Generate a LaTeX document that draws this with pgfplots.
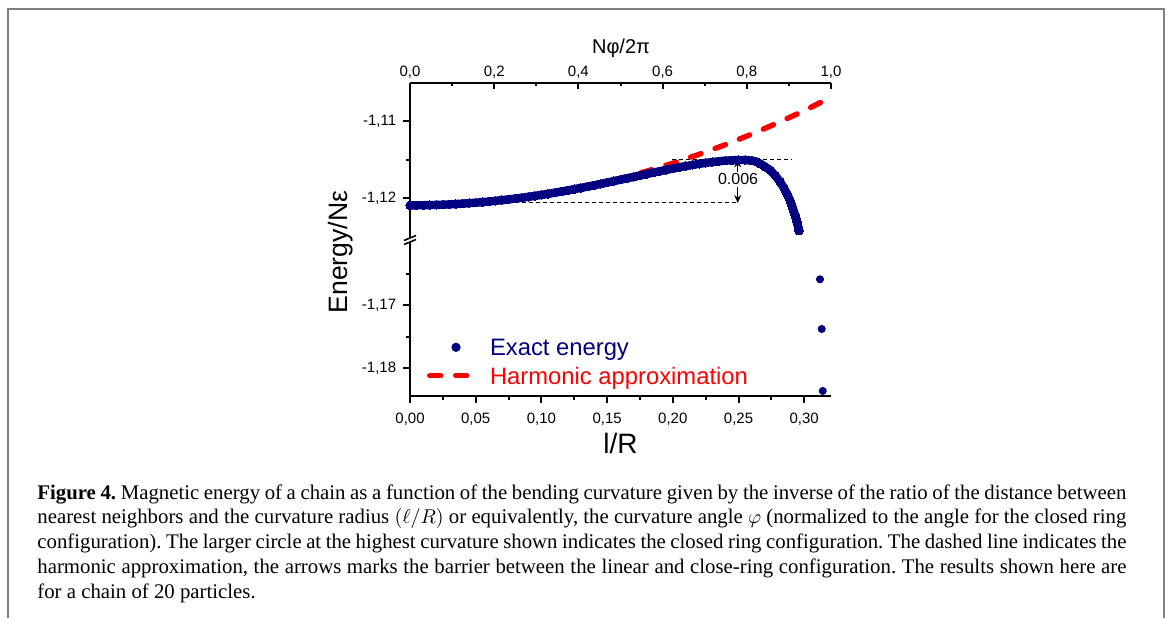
\documentclass[border=0pt]{standalone}
\usepackage{pgfplots}
\pgfplotsset{compat=1.18}
\usepackage{pgfplotstable}
\usetikzlibrary{arrows.meta}
\usepackage{fontspec}
\setmainfont{Liberation Sans}
\newfontfamily\capfont{Liberation Serif}
\definecolor{navyb}{RGB}{0,0,128}
\definecolor{bordergray}{RGB}{128,128,128}

\pgfplotstableread{
x y
0.000 -1.12090
0.005 -1.12090
0.010 -1.12089
0.015 -1.12087
0.020 -1.12085
0.025 -1.12082
0.030 -1.12078
0.035 -1.12073
0.040 -1.12068
0.045 -1.12062
0.050 -1.12056
0.055 -1.12049
0.060 -1.12041
0.065 -1.12032
0.070 -1.12023
0.075 -1.12013
0.080 -1.12003
0.085 -1.11992
0.090 -1.11980
0.095 -1.11968
0.100 -1.11955
0.105 -1.11941
0.110 -1.11927
0.115 -1.11912
0.120 -1.11897
0.125 -1.11881
0.130 -1.11865
0.135 -1.11848
0.140 -1.11831
0.145 -1.11813
0.150 -1.11795
0.155 -1.11777
0.160 -1.11759
0.165 -1.11740
0.170 -1.11722
0.175 -1.11703
0.180 -1.11685
0.185 -1.11666
0.190 -1.11648
0.195 -1.11631
0.200 -1.11614
0.205 -1.11597
0.210 -1.11581
0.215 -1.11567
0.220 -1.11552
0.225 -1.11540
0.230 -1.11529
0.235 -1.11519
0.240 -1.11511
0.245 -1.11506
0.250 -1.11502
0.255 -1.11503
0.260 -1.11510
0.2638 -1.11526
0.267 -1.11555
0.270 -1.11588
0.274 -1.11634
0.278 -1.11705
0.2816 -1.11785
0.285 -1.11878
0.2867 -1.11935
0.288 -1.11980
0.289 -1.12018
0.290 -1.12063
0.2905 -1.12087
0.291 -1.12113
0.292 -1.12165
0.293 -1.12215
0.2938 -1.12259
0.2945 -1.12305
0.295 -1.12340
0.2955 -1.12375
0.296 -1.12419
}\exacttab

\pgfplotstableread{
x y
0.00 -1.12090
0.02 -1.12085
0.04 -1.12068
0.06 -1.12041
0.08 -1.12003
0.10 -1.11954
0.12 -1.11893
0.14 -1.11822
0.16 -1.11741
0.18 -1.11648
0.20 -1.11544
0.22 -1.11429
0.24 -1.11304
0.26 -1.11167
0.28 -1.11020
0.30 -1.10862
0.3204 -1.10689
}\harmtab

\begin{document}
\frenchspacing
\begin{tikzpicture}
\path[use as bounding box] (0pt,0pt) rectangle (585pt,309pt);
\draw[bordergray, line width=1pt] (3.75pt,0pt) -- (3.75pt,304.5pt) -- (581.75pt,304.5pt) -- (581.75pt,0pt);

\pgfplotsset{
  every axis/.append style={
    scale only axis, width=210.5pt,
    axis line style={line width=1pt, black},
    tick style={line width=1pt, black},
    major tick length=3.4pt, minor tick length=1.9pt,
    ticklabel style={font=\fontsize{7.5}{9}\selectfont},
    /pgf/number format/assume math mode=true,
    xmin=0, xmax=0.3204,
  }
}

% upper part (data)
\begin{axis}[
  at={(205pt,189pt)}, anchor=south west, height=78.65pt,
  ymin=-1.1254, ymax=-1.1050,
  axis x line=none, axis y line*=left,
  tick align=outside,
  ytick={-1.11,-1.12}, yticklabels={{-1,11},{-1,12}},
  minor ytick={-1.115},
]
\addplot[red, line width=2.7pt, line cap=round, dash pattern=on 5.5pt off 7.5pt] table {\harmtab};
\addplot[navyb, line width=4.2pt, line join=round, mark=*, mark size=2.1pt,
  mark options={solid, fill=navyb, draw=navyb, line width=0pt}] table {\exacttab};
\draw[black, line width=0.6pt, dash pattern=on 2pt off 1.5pt] (axis cs:0.1992,-1.11494) -- (axis cs:0.2905,-1.11494);
\draw[black, line width=0.6pt, dash pattern=on 2pt off 1.5pt] (axis cs:0,-1.12055) -- (axis cs:0.2494,-1.12055);
\draw[black, line width=0.7pt, -{Stealth[length=4pt,width=3.5pt]}] (axis cs:0.2494,-1.11656) -- (axis cs:0.2494,-1.11494);
\draw[black, line width=0.7pt, -{Stealth[length=4pt,width=3.5pt]}] (axis cs:0.2494,-1.1185) -- (axis cs:0.2494,-1.12061);
\node[font=\fontsize{8}{9.6}\selectfont, inner sep=0pt] at (axis cs:0.2497,-1.11754) {0.006};
\end{axis}

% top scale
\begin{axis}[
  at={(205pt,189pt)}, anchor=south west, height=78.65pt,
  xmin=0, xmax=1, ymin=0, ymax=1,
  axis x line*=top, axis y line=none,
  tick align=inside,
  xtick={0,0.2,0.4,0.6,0.8,1}, xticklabels={{0,0},{0,2},{0,4},{0,6},{0,8},{1,0}},
  minor xtick={0.1,0.3,0.5,0.7,0.9},
  xticklabel style={yshift=-1.5pt},
]
\end{axis}

% lower part
\begin{axis}[
  at={(205pt,111.15pt)}, anchor=south west, height=77.85pt,
  ymin=-1.1843, ymax=-1.1597,
  axis x line*=bottom, axis y line*=left,
  tick align=outside,
  xtick={0,0.05,0.10,0.15,0.20,0.25,0.30},
  xticklabels={{0,00},{0,05},{0,10},{0,15},{0,20},{0,25},{0,30}},
  minor xtick={0.025,0.075,0.125,0.175,0.225,0.275},
  xticklabel style={yshift=-1.5pt},
  ytick={-1.17,-1.18}, yticklabels={{-1,17},{-1,18}},
  minor ytick={-1.165,-1.175},
  legend style={draw=none, fill=none, at={(axis description cs:0.0404,0.3783)}, anchor=north west,
    inner sep=0pt, outer sep=0pt, row sep=3.7pt, column sep=9.5pt,
    nodes={inner sep=0pt, text height=9.5pt, text depth=1pt, font=\fontsize{11.9}{14}\selectfont}},
  legend cell align=left,
]
\addplot[forget plot, only marks, mark=*, mark size=1.8pt, navyb, mark options={fill=navyb}] coordinates {(0.3120,-1.16591) (0.3133,-1.17376) (0.3141,-1.18355)};
\addlegendimage{legend image code/.code={\path[draw=none, fill=none] (0pt,0pt) -- (22pt,0pt); \fill[navyb] (14.5pt,0pt) circle[radius=2.1pt];}}
\addlegendentry[text=navyb]{Exact energy}
\addlegendimage{legend image code/.code={\draw[red, line width=2.7pt, line cap=round, dash pattern=on 5.5pt off 7.5pt] (1.35pt,0pt) -- (20.65pt,0pt);}}
\addlegendentry[text=red]{Harmonic approximation}
\end{axis}

% axis break
\fill[white] (203.5pt,188pt) rectangle (206.5pt,190pt);
\draw[line width=0.8pt] (202pt,186.75pt) -- (208pt,189.25pt);
\draw[line width=0.8pt] (202pt,188.75pt) -- (208pt,191.25pt);

% axis titles
\node[rotate=90, anchor=base, font=\fontsize{13.3}{16}\selectfont] at (173.5pt,183pt) {Energy/Nε};
\node[anchor=base, font=\fontsize{14}{16}\selectfont] at (310.25pt,82.5pt) {l/R};
\node[anchor=base, font=\fontsize{10}{12}\selectfont] at (310.5pt,282.5pt) {Nφ/2π};

% caption
\begin{scope}[every node/.style={anchor=base west, inner sep=0pt, font=\capfont\fontsize{10.4}{12}\selectfont}]
\node at (18.5pt,59.5pt) {\makebox[544.5pt][s]{\textbf{Figure 4.} Magnetic energy of a chain as a function of the bending curvature given by the inverse of the ratio of the distance between}};
\node at (18.5pt,47.125pt) {\makebox[544.5pt][s]{nearest neighbors and the curvature radius $(\ell/R)$ or equivalently, the curvature angle $\varphi$ (normalized to the angle for the closed ring}};
\node at (18.5pt,34.75pt) {\makebox[544.5pt][s]{configuration). The larger circle at the highest curvature shown indicates the closed ring configuration. The dashed line indicates the}};
\node at (18.5pt,22.375pt) {\makebox[544.5pt][s]{harmonic approximation, the arrows marks the barrier between the linear and close-ring configuration. The results shown here are}};
\node at (18.5pt,10pt) {for a chain of 20 particles.};
\end{scope}
\end{tikzpicture}
\end{document}
